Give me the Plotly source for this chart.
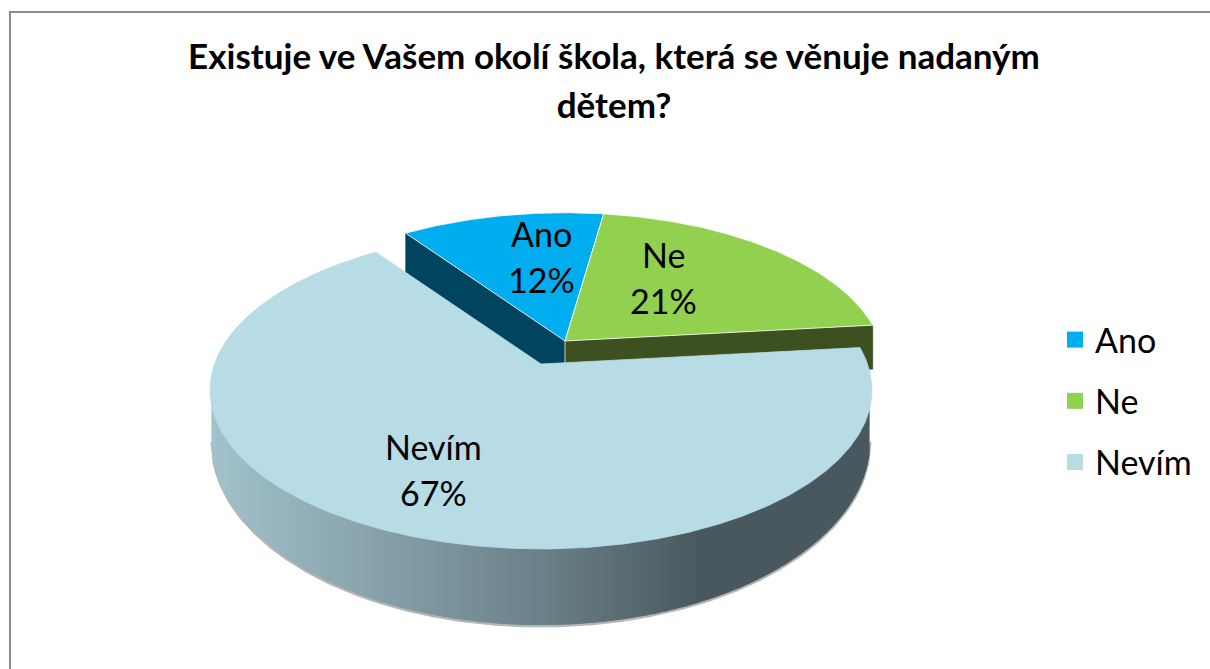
import numpy as np
import plotly.graph_objects as go

# data
categories = ['Ano', 'Ne', 'Nevím']
shares = [12, 21, 67]
colors = ['#00aeef', '#92d050', '#b7dce6']
title_lines = ['Existuje ve Vašem okolí škola, která se věnuje nadaným', 'dětem?']

W, H = 1210, 669
FONT = 'Lato'

# perspective of the tilted disc
START = -35
PERSP, AX, AY = 0.1635, 326.5, 154.7
DISC = [(565, 341, 0.965), (565, 341, 0.965), (541, 364, 1.0)]  # centre x, y, scale per slice


def project(deg, disc):
    cx, cy, s = disc
    t = np.radians(deg)
    d = 1 + PERSP * np.cos(t)
    return cx + s * AX * np.sin(t) / d, cy - s * AY * np.cos(t) / d


def wedge(a0, a1, disc):
    ang = np.linspace(a0, a1, int(abs(a1 - a0) * 2) + 2)
    x, y = project(ang, disc)
    return [disc[0], *x, disc[0]], [disc[1], *y, disc[1]]


def wall(p0, p1, depth, color):
    # flat cut face between two points, running down by depth
    return go.Scatter(x=[p0[0], p1[0], p1[0], p0[0], p0[0]],
                      y=[p0[1], p1[1], p1[1] + depth, p0[1] + depth, p0[1]],
                      mode='lines', fill='toself', fillcolor=color,
                      line=dict(color=color, width=0.5),
                      hoverinfo='skip', showlegend=False)


# slice angles from the shares
angles = [START]
for v in shares:
    angles.append(angles[-1] + 360 * v / sum(shares))

fig = go.Figure()

# cut faces of the two back slices
c_back = DISC[0][:2]
fig.add_trace(wall(project(angles[0], DISC[0]), c_back, 70, '#00445f'))
fig.add_trace(wall(c_back, project(angles[2], DISC[0]), 44, '#3d5020'))
fig.add_shape(type='line', x0=c_back[0], x1=c_back[0], y0=c_back[1], y1=c_back[1] + 22,
              line=dict(color='#c8c8c8', width=1))

# outer wall of the front slice, shaded strip by strip
RX, RY, CX, CY = 331, 159, 541, 390
BX, BY, BCY = 329, 184, 441
STEP = 3.0
xs = np.arange(CX - RX + 2, CX + RX - STEP - 1, STEP)


def ell(x, rx, ry, cy):
    return cy + ry * np.sqrt(np.clip(1 - ((x - CX) / rx) ** 2, 0, 1))


# soft edge under the wall
bx = np.linspace(CX - BX, CX + BX, 300)
fig.add_trace(go.Scatter(x=bx, y=ell(bx, BX, BY, BCY) + 1, mode='lines',
                         line=dict(color='rgba(120,120,120,0.55)', width=3),
                         hoverinfo='skip', showlegend=False))
c0, c1 = np.array([163, 195, 205]), np.array([74, 89, 95])
for x0 in xs:
    f = np.interp(x0, [210, 300, 541, 700, 872], [0, 0.17, 0.62, 1, 1])
    r, g, b = (c0 + (c1 - c0) * f).astype(int)
    col = f'rgb({r},{g},{b})'
    px = np.array([x0, x0 + STEP / 2, x0 + STEP])
    fig.add_trace(go.Scatter(
        x=[*px, *px[::-1], x0],
        y=[*(ell(px, RX, RY, CY) - 4), *(ell(px[::-1], BX, BY, BCY) - 0.5), ell(x0, RX, RY, CY) - 4],
        mode='lines', fill='toself', fillcolor=col, line=dict(color=col, width=1.2),
        hoverinfo='skip', showlegend=False))

# top faces
for i, name in enumerate(categories):
    x, y = wedge(angles[i], angles[i + 1], DISC[i])
    fig.add_trace(go.Scatter(x=x, y=y, mode='lines', fill='toself', fillcolor=colors[i],
                             line=dict(color='white' if i < 2 else colors[i], width=0.8),
                             hoverinfo='skip', showlegend=False))

# legend entries
for i, name in enumerate(categories):
    fig.add_trace(go.Scatter(x=[None], y=[None], mode='markers', name=name, legendgroup=name,
                             marker=dict(symbol='square', size=18, color=colors[i])))

# data labels
label_pos = [(541, 257), (663, 278), (433, 470)]
annots = []
for name, v, (lx, ly) in zip(categories, shares, label_pos):
    pct = round(100 * v / sum(shares))
    annots.append(dict(x=lx, y=ly - 24, xref='x', yref='y', text=name, showarrow=False,
                       font=dict(family=FONT, size=34, color='black')))
    annots.append(dict(x=lx, y=ly + 22, xref='x', yref='y', text=f'{pct}%', showarrow=False,
                       font=dict(family=FONT, size=34, color='black')))

fig.update_layout(
    width=W, height=H, margin=dict(l=0, r=0, t=0, b=0),
    paper_bgcolor='white', plot_bgcolor='white',
    xaxis=dict(range=[0, W], visible=False, fixedrange=True),
    yaxis=dict(range=[H, 0], visible=False, fixedrange=True),
    title=dict(text='<br>'.join(f'<span style="font-size:35px">{t}</span>' for t in title_lines),
               x=614 / W, xanchor='center', y=1 - 69 / H, yanchor='top', xref='paper', yref='container',
               font=dict(family=FONT, size=38, color='black', weight='bold')),
    legend=dict(x=1055 / W, y=1 - 401 / H, xanchor='left', yanchor='middle', tracegroupgap=14,
                font=dict(family=FONT, size=34, color='black'), itemwidth=30,
                bgcolor='rgba(0,0,0,0)'),
    annotations=annots,
    shapes=list(fig.layout.shapes) + [dict(type='rect', x0=10, y0=12, x1=W + 20, y1=H + 20,
                                           line=dict(color='#8c8c8c', width=2), layer='above')],
)

fig.write_html('out.html', config=dict(displayModeBar=False),
               post_script="document.body.style.margin='0';document.documentElement.style.overflow='hidden';")
